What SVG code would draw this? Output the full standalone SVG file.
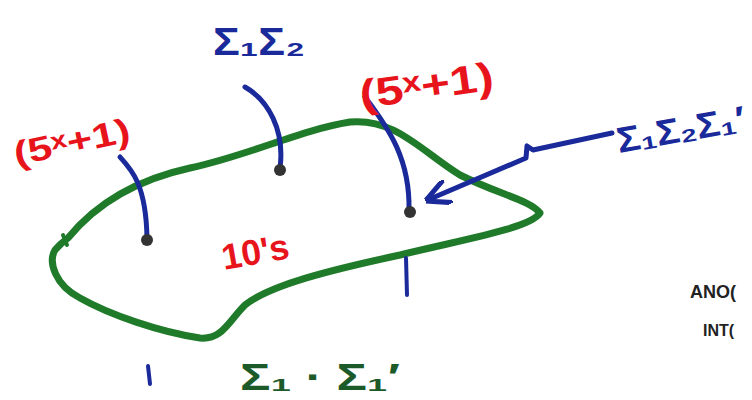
<svg xmlns="http://www.w3.org/2000/svg" width="752" height="400" viewBox="0 0 752 400">
<style>
.blue{fill:none;stroke:#1a2a9a;stroke-width:5;stroke-linecap:round;stroke-linejoin:round}
.green{fill:none;stroke:#1f7a2a;stroke-width:7;stroke-linecap:round;stroke-linejoin:round}
.dot{fill:#333}
.red{font-family:"Liberation Sans",sans-serif;font-weight:bold;fill:#e8141c}
.bl{font-family:"Liberation Sans",sans-serif;font-weight:bold;fill:#1a2a9a}
.gr{font-family:"Liberation Sans",sans-serif;font-weight:bold;fill:#1d5a2a}
.bk{font-family:"Liberation Sans",sans-serif;font-weight:bold;fill:#222}
</style>
<defs>
<marker id="ah" viewBox="0 0 10 10" refX="8" refY="5" markerWidth="5" markerHeight="5" orient="auto">
<path d="M0,0 L10,5 L0,10" fill="none" stroke="#1a2a9a" stroke-width="2"/>
</marker>
</defs>
<rect width="752" height="400" fill="#fff"/>
<g id="region">
<path class="green" d="M68,238 C95,205 135,180 190,168 C250,155 300,130 350,122 C395,118 420,150 460,175 C500,195 530,200 540,213 C530,228 470,238 400,255 C330,270 270,285 245,305 C228,322 222,340 200,338 C160,332 110,315 80,298 C55,285 48,262 55,250 C60,244 64,241 68,238 Z"/>
<path class="green" d="M63,235 L67,245" style="stroke-width:4"/>
</g>
<g id="connectors">
<path class="blue" d="M120,157 C132,170 146,185 147,238"/>
<path class="blue" d="M245,87 C268,100 285,130 280,168"/>
<path class="blue" d="M365,97 C390,130 410,160 409,210"/>
<path class="blue" d="M612,133 L533,150 L527,146 L526,158 L430,199" marker-end="url(#ah)"/>
<path class="blue" d="M406,258 L407,295" style="stroke-width:4"/>
<path class="blue" d="M148,366 L150,384" style="stroke-width:4"/>
</g>
<g id="n1"><circle class="dot" cx="147" cy="240" r="6"/><text class="red" x="12" y="156" font-size="34" textLength="118" lengthAdjust="spacingAndGlyphs" transform="rotate(-12 60 140)">(5ˣ+1)</text></g>
<g id="n2"><circle class="dot" cx="280" cy="170" r="6"/><text class="bl" x="213" y="55" font-size="38" textLength="92" lengthAdjust="spacingAndGlyphs">Σ₁Σ₂</text></g>
<g id="n3"><circle class="dot" cx="410" cy="212" r="6"/><text class="red" x="358" y="100" font-size="40" textLength="135" lengthAdjust="spacingAndGlyphs" transform="rotate(-8 420 80)">(5ˣ+1)</text></g>
<g id="n4"><text class="bl" x="615" y="142" font-size="36" textLength="130" lengthAdjust="spacingAndGlyphs" transform="rotate(-10 680 125)">Σ₁Σ₂Σ₁′</text></g>
<g id="n5"><text class="red" x="220" y="265" font-size="36" textLength="68" lengthAdjust="spacingAndGlyphs" transform="rotate(-10 250 245)">10's</text></g>
<g id="n6"><text class="gr" x="240" y="390" font-size="36" textLength="160" lengthAdjust="spacingAndGlyphs">Σ₁ · Σ₁′</text></g>
<g id="n7"><text class="bk" x="690" y="298" font-size="18">ANO(</text><text class="bk" x="703" y="336" font-size="16">INT(</text></g>
</svg>
